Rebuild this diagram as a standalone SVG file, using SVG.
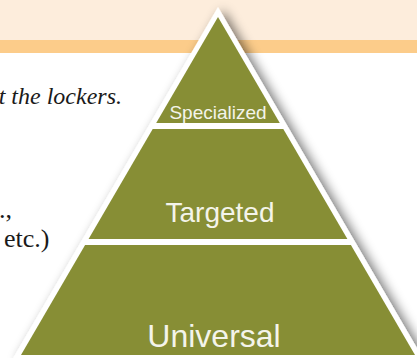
<svg xmlns="http://www.w3.org/2000/svg" width="417" height="358" viewBox="0 0 417 358">
  <defs>
    <filter id="shadow" x="-20%" y="-20%" width="140%" height="140%">
      <feGaussianBlur in="SourceAlpha" stdDeviation="6"/>
      <feOffset dx="5" dy="3" result="b"/>
      <feComponentTransfer><feFuncA type="linear" slope="0.55"/></feComponentTransfer>
      <feMerge><feMergeNode/><feMergeNode in="SourceGraphic"/></feMerge>
    </filter>
  </defs>
  <style>
    .tier { fill: #878E35; }
    .lbl { font-family: "Liberation Sans", Arial, sans-serif; fill: #F4F4EA; text-anchor: middle; }
    .body { font-family: "Liberation Serif", "Times New Roman", serif; fill: #1A1A1A; }
  </style>
  <rect x="0" y="0" width="417" height="358" fill="#FFFFFF"/>
  <rect x="0" y="0" width="417" height="40" fill="#FDEDDC"/>
  <rect x="0" y="40" width="417" height="13" fill="#FCCC8A"/>
  <g id="body-text">
    <text class="body" x="122" y="104" font-size="24" font-style="italic" text-anchor="end">t the lockers.</text>
    <text class="body" x="12" y="218" font-size="26" text-anchor="end">.,</text>
    <text class="body" x="4" y="247" font-size="26">etc.)</text>
  </g>
  <g id="pyramid">
    <polygon points="218,7 12,360 424,360" fill="#FFFFFF" filter="url(#shadow)"/>
    <g id="specialized">
      <polygon class="tier" points="218,17 156.2,123 279.8,123"/>
      <text class="lbl" x="218" y="119" font-size="19">Specialized</text>
    </g>
    <g id="targeted">
      <polygon class="tier" points="152.7,129 283.3,129 347.4,239 88.6,239"/>
      <text class="lbl" x="220" y="222" font-size="28">Targeted</text>
    </g>
    <g id="universal">
      <polygon class="tier" points="85.1,245 350.9,245 415,355 21,355"/>
      <text class="lbl" x="214" y="347" font-size="32">Universal</text>
    </g>
  </g>
  <g id="connectors"/>
</svg>
